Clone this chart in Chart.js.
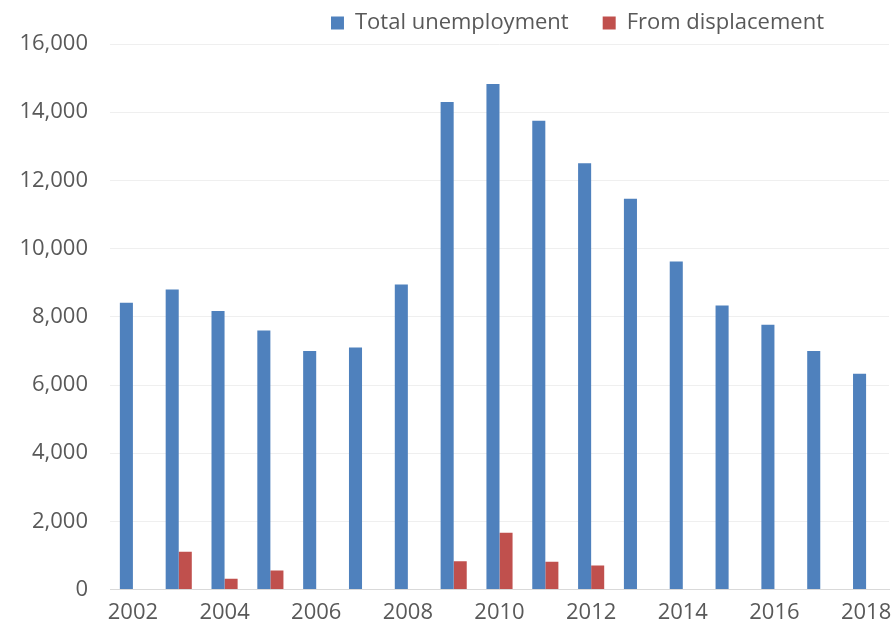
<!DOCTYPE html>
<html>
<head>
<meta charset="utf-8">
<script src="https://cdn.jsdelivr.net/npm/chart.js@4"></script>
<style>
  html, body { margin: 0; padding: 0; background: #fff; }
  #wrap { width: 896px; height: 639px; position: relative; }
</style>
</head>
<body>
<div id="wrap"><canvas id="c"></canvas></div>
<script>
const years = ['2002','2003','2004','2005','2006','2007','2008','2009','2010',
               '2011','2012','2013','2014','2015','2016','2017','2018']
const totalUnemployment = [8410, 8800, 8170, 7600, 7000, 7100, 8950, 14300, 14830,
                           13750, 12500, 11460, 9620, 8330, 7770, 7000, 6330]
const fromDisplacement = [null, 1110, 320, 560, null, null, null, 830, 1670,
                          820, 710, null, null, null, null, null, null]
const yTicks = [0, 2000, 4000, 6000, 8000, 10000, 12000, 14000, 16000]

// nudge the legend to the right like the original
const legendShift = {
    id: 'legendShift',
    afterLayout(chart) {
        chart.legend.left += 128
        chart.legend.right += 128
    }
}

const txt = '#595959'
const font = { family: 'Open Sans', size: 22 }

new Chart(document.getElementById('c'), {
    type: 'bar',
    data: {
        labels: years,
        datasets: [{
            label: 'Total unemployment',
            data: totalUnemployment,
            backgroundColor: '#4f81bd',
            barPercentage: 1.0,
            categoryPercentage: 0.57
        },
        {
            label: 'From displacement',
            data: fromDisplacement,
            backgroundColor: '#c0504d',
            barPercentage: 1.0,
            categoryPercentage: 0.57
        }]
    },
    plugins: [legendShift],
    options: {
        responsive: true,
        maintainAspectRatio: false,
        animation: false,
        layout: { padding: { left: 10, right: 7, bottom: 11, top: 0 } },
        plugins: {
            legend: {
                position: 'top',
                labels: {
                    boxWidth: 13, boxHeight: 13, padding: 12,
                    color: txt, font: { family: 'Open Sans', size: 22 },
                    generateLabels(chart) {
                        const items = Chart.defaults.plugins.legend.labels.generateLabels(chart)
                        items[0].text += '\u2003'
                        return items
                    }
                }
            },
            tooltip: { enabled: false }
        },
        scales: {
            x: {
                grid: { display: false },
                border: { color: '#d9d9d9' },
                ticks: {
                    autoSkip: false, maxRotation: 0, padding: 2,
                    color: txt, font: font,
                    callback: (v, i) => i % 2 === 0 ? years[i] : ''
                }
            },
            y: {
                min: 0, max: 16000,
                afterFit(scale) { scale.width = 100 },
                afterBuildTicks(scale) { scale.ticks = yTicks.map(v => ({ value: v })) },
                border: { display: false },
                grid: {
                    drawTicks: false,
                    color: ctx => ctx.tick && ctx.tick.value === 0 ? '#d9d9d9' : '#efefef'
                },
                ticks: {
                    padding: 22, color: txt, font: font,
                    callback: v => v.toLocaleString('en-US')
                }
            }
        }
    }
})
</script>
</body>
</html>
